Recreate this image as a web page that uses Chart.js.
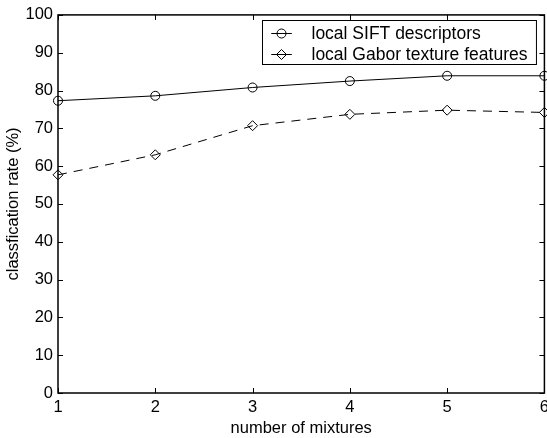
<!DOCTYPE html>
<html>
<head>
<meta charset="utf-8">
<script src="https://cdn.jsdelivr.net/npm/chart.js@4.4.0/dist/chart.umd.min.js"></script>
<style>
    html, body { margin: 0; padding: 0; background: #fff; overflow: hidden; }
    #wrap { width: 554px; height: 438px; }
</style>
</head>
<body>
<div id="wrap"><canvas id="lineChart"></canvas></div>
<script>
// Datos
const mezclas = [1, 2, 3, 4, 5, 6];
const siftValores = [77.3, 78.6, 80.8, 82.5, 83.9, 83.9];
const gaborValores = [57.7, 63.0, 70.7, 73.7, 74.8, 74.2];
const etiquetaSift = 'local SIFT descriptors';
const etiquetaGabor = 'local Gabor texture features';
const tituloX = 'number of mixtures';
const tituloY = 'classfication rate (%)';

const FUENTE = '"Liberation Sans", Arial, Helvetica, sans-serif';
Chart.defaults.font.family = FUENTE;
Chart.defaults.font.size = 16.5;
Chart.defaults.color = '#000';

function puntos(valores) {
    return mezclas.map((m, i) => ({ x: m, y: valores[i] }));
}

// Marco de ejes y marcas hacia adentro (estilo MATLAB)
const marcoPlugin = {
    id: 'marco',
    afterDatasetsDraw(chart) {
        const { ctx, chartArea: a, scales: { x, y } } = chart;
        const largo = 5;
        ctx.save();
        ctx.strokeStyle = '#000';
        ctx.lineWidth = 1;
        ctx.beginPath();
        x.ticks.forEach(t => {
            const px = Math.round(x.getPixelForValue(t.value)) + 0.5;
            ctx.moveTo(px, a.bottom); ctx.lineTo(px, a.bottom - largo);
            ctx.moveTo(px, a.top); ctx.lineTo(px, a.top + largo);
        });
        y.ticks.forEach(t => {
            const py = Math.round(y.getPixelForValue(t.value)) + 0.5;
            ctx.moveTo(a.left, py); ctx.lineTo(a.left + largo, py);
            ctx.moveTo(a.right, py); ctx.lineTo(a.right - largo, py);
        });
        ctx.stroke();
        ctx.lineWidth = 1.5;
        ctx.strokeRect(a.left, a.top, a.right - a.left, a.bottom - a.top);
        ctx.restore();
    }
};

// Leyenda dibujada a mano: línea corta con marcador en el centro
const leyendaPlugin = {
    id: 'leyenda',
    afterDraw(chart) {
        const { ctx, chartArea: a } = chart;
        const sets = chart.data.datasets;
        ctx.save();
        ctx.font = '17.5px ' + FUENTE;
        const anchoTexto = Math.max(...sets.map(d => ctx.measureText(d.label).width));
        const ancho = 9 + 20 + 20 + anchoTexto + 9;
        const alto = 44;
        const x0 = Math.round(a.right - 8 - ancho) + 0.5;
        const y0 = Math.round(a.top + 5) + 0.5;
        ctx.fillStyle = '#fff';
        ctx.fillRect(x0, y0, ancho, alto);
        ctx.strokeStyle = '#000';
        ctx.lineWidth = 1;
        ctx.strokeRect(x0, y0, ancho, alto);

        sets.forEach((ds, i) => {
            const cy = y0 + 13 + i * 21;
            ctx.beginPath();
            ctx.moveTo(x0 + 9, cy);
            ctx.lineTo(x0 + 29, cy);
            ctx.stroke();
            ctx.fillStyle = '#fff';
            Chart.helpers.drawPoint(ctx, {
                pointStyle: ds.pointStyle,
                radius: ds.pointRadius,
                borderWidth: 1,
                rotation: 0
            }, x0 + 19, cy);
            // volver a trazar la línea dentro del marcador vacío
            ctx.beginPath();
            ctx.moveTo(x0 + 9, cy);
            ctx.lineTo(x0 + 29, cy);
            ctx.stroke();
            ctx.fillStyle = '#000';
            ctx.textBaseline = 'middle';
            ctx.textAlign = 'left';
            ctx.fillText(ds.label, x0 + 49, cy + 1);
        });
        ctx.restore();
    }
};

const ctx = document.getElementById('lineChart').getContext('2d');
new Chart(ctx, {
    type: 'line',
    data: {
        datasets: [
            {
                label: etiquetaSift,
                data: puntos(siftValores),
                borderColor: '#000',
                borderWidth: 1,
                pointStyle: 'circle',
                pointRadius: 4.5,
                pointBorderColor: '#000',
                pointBackgroundColor: 'rgba(0,0,0,0)',
                pointBorderWidth: 1,
                tension: 0,
                clip: false
            },
            {
                label: etiquetaGabor,
                data: puntos(gaborValores),
                borderColor: '#000',
                borderWidth: 1,
                borderDash: [9, 7],
                pointStyle: 'rectRot',
                pointRadius: 5,
                pointBorderColor: '#000',
                pointBackgroundColor: 'rgba(0,0,0,0)',
                pointBorderWidth: 1,
                tension: 0,
                clip: false
            }
        ]
    },
    options: {
        responsive: true,
        maintainAspectRatio: false,
        animation: false,
        layout: { padding: { top: 13, left: 0, right: 0, bottom: 0 } },
        plugins: {
            legend: { display: false },
            tooltip: { enabled: false }
        },
        scales: {
            x: {
                type: 'linear',
                min: 1,
                max: 6,
                grid: { display: false, drawTicks: false },
                border: { display: false },
                ticks: { stepSize: 1, padding: 5 },
                title: { display: true, text: tituloX, padding: { top: 0, bottom: 0 } },
                afterFit(scale) { scale.height = 45; }
            },
            y: {
                min: 0,
                max: 100,
                grid: { display: false, drawTicks: false },
                border: { display: false },
                ticks: { stepSize: 10, padding: 5 },
                title: { display: true, text: tituloY, padding: { top: 4, bottom: 0 } },
                afterFit(scale) { scale.width = 58; }
            }
        }
    },
    plugins: [marcoPlugin, leyendaPlugin]
});
</script>
</body>
</html>
